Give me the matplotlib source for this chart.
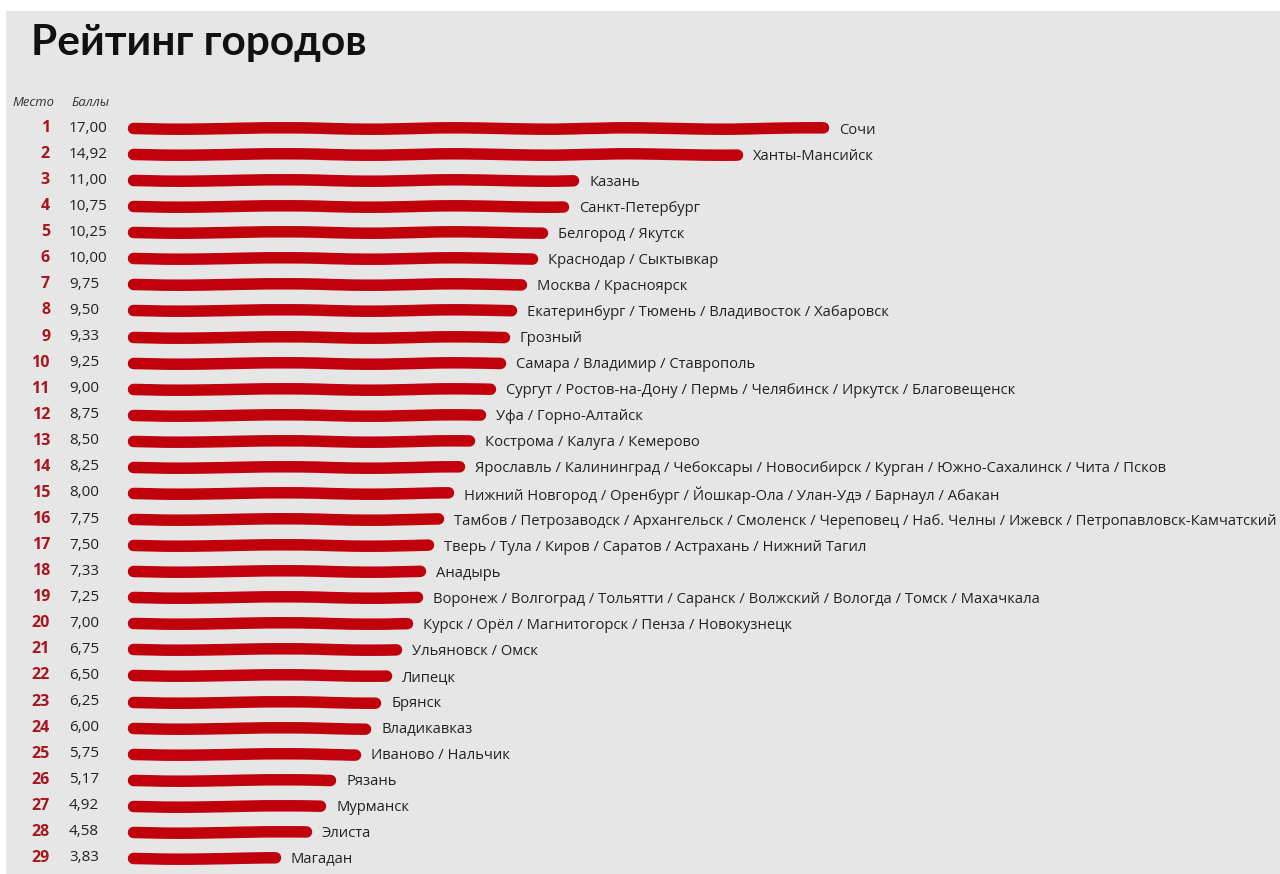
import matplotlib
matplotlib.use("Agg")
import matplotlib.pyplot as plt
from matplotlib.patches import Rectangle
from matplotlib.transforms import blended_transform_factory

# ---- data ----
ranks = list(range(1, 30))
scores = [17.00, 14.92, 11.00, 10.75, 10.25, 10.00, 9.75, 9.50, 9.33, 9.25,
          9.00, 8.75, 8.50, 8.25, 8.00, 7.75, 7.50, 7.33, 7.25, 7.00,
          6.75, 6.50, 6.25, 6.00, 5.75, 5.17, 4.92, 4.58, 3.83]
cities = [
    "Сочи",
    "Ханты-Мансийск",
    "Казань",
    "Санкт-Петербург",
    "Белгород / Якутск",
    "Краснодар / Сыктывкар",
    "Москва / Красноярск",
    "Екатеринбург / Тюмень / Владивосток / Хабаровск",
    "Грозный",
    "Самара / Владимир / Ставрополь",
    "Сургут / Ростов-на-Дону / Пермь / Челябинск / Иркутск / Благовещенск",
    "Уфа / Горно-Алтайск",
    "Кострома / Калуга / Кемерово",
    "Ярославль / Калининград / Чебоксары / Новосибирск / Курган / Южно-Сахалинск / Чита / Псков",
    "Нижний Новгород / Оренбург / Йошкар-Ола / Улан-Удэ / Барнаул / Абакан",
    "Тамбов / Петрозаводск / Архангельск / Смоленск / Череповец / Наб. Челны / Ижевск / Петропавловск-Камчатский",
    "Тверь / Тула / Киров / Саратов / Астрахань / Нижний Тагил",
    "Анадырь",
    "Воронеж / Волгоград / Тольятти / Саранск / Волжский / Вологда / Томск / Махачкала",
    "Курск / Орёл / Магнитогорск / Пенза / Новокузнецк",
    "Ульяновск / Омск",
    "Липецк",
    "Брянск",
    "Владикавказ",
    "Иваново / Нальчик",
    "Рязань",
    "Мурманск",
    "Элиста",
    "Магадан",
]
title = "Рейтинг городов"
col_rank = "Место"
col_score = "Баллы"

# ---- style ----
W, H, DPI = 1280, 874, 100
FONT = ["Open Sans", "DejaVu Sans"]
TITLE_FONT = ["Lato", "Open Sans", "DejaVu Sans"]
plt.rcParams["font.family"] = FONT
BG = "#e6e6e6"
RED = "#c0000b"
RANK_RED = "#a8151c"
TXT = "#222222"

PX_PER_UNIT = 41.67
X0_PX = 115.0
ROW0_PX = 128.0
ROW_PX = 26.07
BAR_START = 0.43

fig = plt.figure(figsize=(W / DPI, H / DPI), dpi=DPI, facecolor="white")
ax = fig.add_axes([0, 0, 1, 1])
ax.set_xlim(-X0_PX / PX_PER_UNIT, (W - X0_PX) / PX_PER_UNIT)
ax.set_ylim(1 + (H - ROW0_PX) / ROW_PX, 1 - ROW0_PX / ROW_PX)
ax.axis("off")

# paper background (white strip at top and left)
fig.patches.append(Rectangle((6 / W, 0), 1, 1 - 11 / H, transform=fig.transFigure,
                             facecolor=BG, edgecolor="none", zorder=-10))

lw_pt = 11.5 * 72 / DPI
for r, s, c in zip(ranks, scores, cities):
    ln, = ax.plot([BAR_START, s], [r, r], color=RED, lw=lw_pt,
                  solid_capstyle="round", zorder=2)
    ln.set_sketch_params(scale=0.7, length=260, randomness=4)
    ax.annotate(c, xy=(s, r), xytext=(16, -2), textcoords="offset pixels",
                ha="left", va="center", fontsize=10.6, color=TXT, zorder=3)

tr = blended_transform_factory(fig.transFigure, ax.transData)
for r, s in zip(ranks, scores):
    ax.text(50 / W, r, str(r), transform=tr, ha="right", va="center",
            fontsize=11.5, fontweight="bold", color=RANK_RED)
    ax.text(69 / W, r, f"{s:.2f}".replace(".", ","), transform=tr, ha="left",
            va="center", fontsize=11, color=TXT)

fig.text(12 / W, 1 - 103 / H, col_rank, ha="left", va="center", fontsize=9.4,
         style="italic", color="#333333")
fig.text(71 / W, 1 - 103 / H, col_score, ha="left", va="center", fontsize=9.4,
         style="italic", color="#333333")

fig.text(31 / W, 1 - 55 / H, title, ha="left", va="baseline", fontsize=30.5,
         fontweight="bold", color="#111111", family=TITLE_FONT)

fig.savefig("out.png", dpi=DPI, facecolor="white")
